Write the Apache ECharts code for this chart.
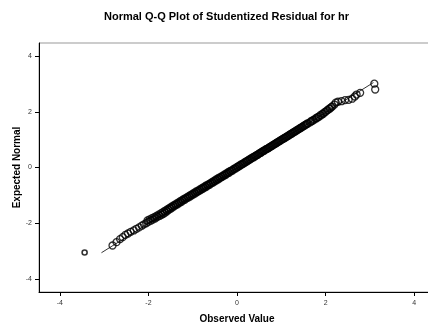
<!DOCTYPE html>
<html>
<head>
<meta charset="utf-8">
<script src="https://cdn.jsdelivr.net/npm/echarts@6/dist/echarts.min.js"></script>
<style>
  html, body { margin: 0; padding: 0; background: #fff; }
  #main { width: 428px; height: 325px; }
</style>
</head>
<body>
<div id="main"></div>
<script>
// 观测值 (studentized residual)
const observed = [
  -2.81, -2.72, -2.64, -2.58, -2.52, -2.46, -2.40, -2.33, -2.27,
  -2.21, -2.15, -2.10, -2.05, -2.00, -1.95, -1.90, -1.85, -1.80, -1.75,
  -1.70, -1.66, -1.62, -1.58, -1.54, -1.50, -1.46, -1.42, -1.38, -1.34,
  -1.30, -1.26, -1.22, -1.18, -1.14, -1.10, -1.06, -1.02, -0.98, -0.94,
  -0.90, -0.86, -0.82, -0.78, -0.74, -0.70, -0.66, -0.62, -0.58, -0.54,
  -0.50, -0.46, -0.42, -0.38, -0.34, -0.30, -0.26, -0.22, -0.18, -0.14,
  -0.10, -0.06, -0.02, 0.02, 0.06, 0.10, 0.14, 0.18, 0.22, 0.26,
  0.30, 0.34, 0.38, 0.42, 0.46, 0.50, 0.54, 0.58, 0.62, 0.66,
  0.70, 0.74, 0.78, 0.82, 0.86, 0.90, 0.94, 0.98, 1.02, 1.06,
  1.10, 1.14, 1.18, 1.22, 1.26, 1.30, 1.34, 1.38, 1.42, 1.46,
  1.50, 1.54, 1.58, 1.65, 1.70, 1.75, 1.80, 1.85, 1.90, 1.95,
  2.00, 2.05, 2.10, 2.15, 2.20, 2.23, 2.28, 2.36, 2.44, 2.52,
  2.60, 2.66, 2.70, 2.78, 3.10, 3.12
];
// 期望正态值
const expected = [
  -2.80, -2.68, -2.57, -2.50, -2.42, -2.37, -2.31, -2.26, -2.20,
  -2.15, -2.09, -2.04, -2.00, -1.95, -1.91, -1.87, -1.83, -1.78, -1.74,
  -1.70, -1.66, -1.62, -1.57, -1.52, -1.48, -1.44, -1.39, -1.35, -1.32,
  -1.27, -1.24, -1.19, -1.16, -1.11, -1.08, -1.04, -1.00, -0.96, -0.93,
  -0.88, -0.85, -0.81, -0.77, -0.73, -0.70, -0.65, -0.62, -0.57, -0.54,
  -0.50, -0.46, -0.42, -0.38, -0.34, -0.30, -0.27, -0.22, -0.19, -0.14,
  -0.11, -0.06, -0.03, 0.02, 0.05, 0.10, 0.13, 0.18, 0.21, 0.26,
  0.29, 0.34, 0.37, 0.42, 0.45, 0.50, 0.53, 0.58, 0.61, 0.66,
  0.69, 0.73, 0.77, 0.81, 0.85, 0.89, 0.93, 0.97, 1.01, 1.05,
  1.09, 1.13, 1.17, 1.21, 1.25, 1.29, 1.33, 1.37, 1.41, 1.45,
  1.49, 1.53, 1.57, 1.62, 1.67, 1.72, 1.77, 1.82, 1.87, 1.93,
  2.00, 2.06, 2.12, 2.19, 2.26, 2.33, 2.36, 2.38, 2.42, 2.43,
  2.47, 2.55, 2.62, 2.68, 3.01, 2.80
];
// 中段重叠点 (带宽)
const observedMid = [
  -2.02, -1.97, -1.92, -1.87, -1.82, -1.77, -1.72, -1.68, -1.64, -1.60,
  -1.56, -1.52, -1.48, -1.44, -1.40, -1.36, -1.32, -1.28, -1.24, -1.20,
  -1.16, -1.12, -1.08, -1.04, -1.00, -0.96, -0.92, -0.88, -0.84, -0.80,
  -0.76, -0.72, -0.68, -0.64, -0.60, -0.56, -0.52, -0.48, -0.44, -0.40,
  -0.36, -0.32, -0.28, -0.24, -0.20, -0.16, -0.12, -0.08, -0.04, 0.00,
  0.04, 0.08, 0.12, 0.16, 0.20, 0.24, 0.28, 0.32, 0.36, 0.40,
  0.44, 0.48, 0.52, 0.56, 0.60, 0.64, 0.68, 0.72, 0.76, 0.80,
  0.84, 0.88, 0.92, 0.96, 1.00, 1.04, 1.08, 1.12, 1.16, 1.20,
  1.24, 1.28, 1.32, 1.36, 1.40, 1.44, 1.48, 1.52, 1.56, 1.60,
  1.67, 1.72, 1.78, 1.83, 1.88, 1.93, 1.98, 2.03, 2.08, 2.13
];
const expectedMid = [
  -1.90, -1.86, -1.82, -1.78, -1.74, -1.69, -1.65, -1.61, -1.57, -1.53,
  -1.49, -1.45, -1.41, -1.37, -1.33, -1.29, -1.25, -1.21, -1.17, -1.13,
  -1.10, -1.06, -1.02, -0.98, -0.94, -0.90, -0.86, -0.83, -0.79, -0.75,
  -0.71, -0.67, -0.63, -0.60, -0.56, -0.52, -0.48, -0.44, -0.40, -0.36,
  -0.33, -0.29, -0.25, -0.21, -0.17, -0.13, -0.10, -0.06, -0.02, 0.02,
  0.06, 0.10, 0.13, 0.17, 0.21, 0.25, 0.29, 0.33, 0.37, 0.40,
  0.44, 0.48, 0.52, 0.56, 0.60, 0.64, 0.67, 0.71, 0.75, 0.79,
  0.83, 0.87, 0.91, 0.95, 0.99, 1.03, 1.06, 1.10, 1.14, 1.18,
  1.22, 1.26, 1.30, 1.34, 1.38, 1.42, 1.46, 1.50, 1.54, 1.58,
  1.66, 1.71, 1.77, 1.82, 1.88, 1.93, 1.99, 2.05, 2.11, 2.17
];
// 左下离群点
const outlier = [[-3.44, -3.05]];
// 参考线端点
const refLine = [[-3.06, -3.06], [3.08, 3.05]];
// 刻度
const ticks = [-4, -2, 0, 2, 4];

const points = observed.map((v, i) => [v, expected[i]])
  .concat(observedMid.map((v, i) => [v, expectedMid[i]]));
const font = 'Liberation Sans, Arial, sans-serif';

const chart = echarts.init(document.getElementById('main'));
chart.setOption({
  animation: false,
  backgroundColor: '#fff',
  title: {
    text: 'Normal Q-Q Plot of Studentized Residual for hr',
    left: 99,
    top: 6,
    textStyle: { fontFamily: font, fontSize: 11, fontWeight: 'bold', color: '#000' }
  },
  grid: {
    left: 39, top: 43, right: -7, bottom: 33,
    outerBoundsMode: 'none',
    containLabel: false,
    show: true, borderColor: '#999', borderWidth: 1
  },
  xAxis: {
    type: 'value',
    min: -4.47, max: 4.47,
    name: 'Observed Value',
    nameLocation: 'middle',
    nameGap: 22,
    nameTextStyle: { fontFamily: font, fontSize: 10, fontWeight: 'bold', color: '#000' },
    axisLine: { onZero: false, lineStyle: { color: '#000', width: 1 } },
    axisTick: { customValues: ticks, length: 4, lineStyle: { color: '#000' } },
    axisLabel: { customValues: ticks, fontFamily: font, fontSize: 7, color: '#333', margin: 8 },
    splitLine: { show: false }
  },
  yAxis: {
    type: 'value',
    min: -4.47, max: 4.47,
    name: 'Expected Normal',
    nameLocation: 'middle',
    nameGap: 17,
    nameMoveOverlap: false,
    nameTextStyle: { fontFamily: font, fontSize: 10, fontWeight: 'bold', color: '#000' },
    axisLine: { onZero: false, lineStyle: { color: '#000', width: 1 } },
    axisTick: { customValues: ticks, length: 4, lineStyle: { color: '#000' } },
    axisLabel: { customValues: ticks, fontFamily: font, fontSize: 7, color: '#333', margin: 7 },
    splitLine: { show: false }
  },
  series: [
    {
      type: 'line',
      data: refLine,
      symbol: 'none',
      lineStyle: { color: '#000', width: 0.8 },
      z: 1
    },
    {
      type: 'scatter',
      data: points,
      symbol: 'circle',
      symbolSize: 7,
      itemStyle: { color: 'transparent', borderColor: '#000', borderWidth: 1.3 },
      z: 2
    },
    {
      type: 'scatter',
      data: outlier,
      symbol: 'circle',
      symbolSize: 5,
      itemStyle: { color: 'transparent', borderColor: '#000', borderWidth: 1.6 },
      z: 2
    }
  ]
});
</script>
</body>
</html>
